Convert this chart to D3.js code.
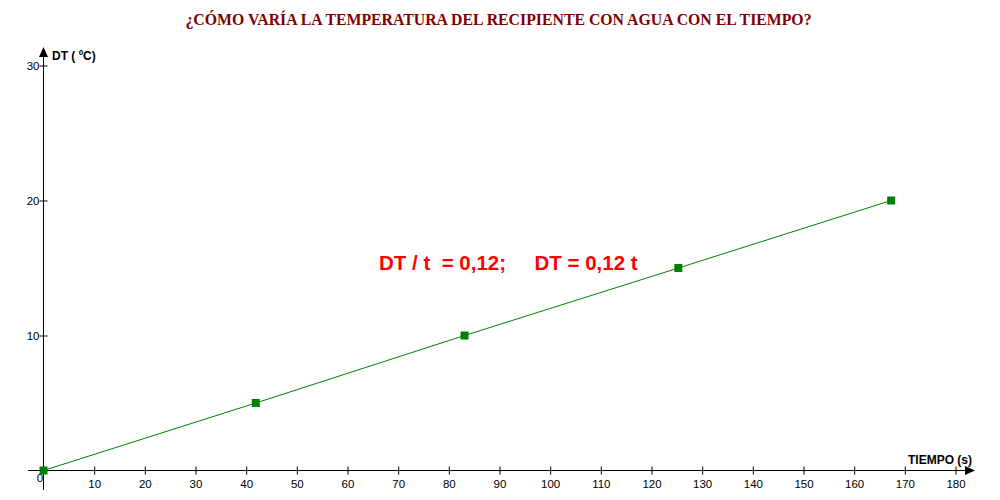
<!DOCTYPE html>
<html><head><meta charset="utf-8">
<script src="https://cdn.jsdelivr.net/npm/d3@7"></script>
<style>body{margin:0;background:#fff}svg{display:block}</style>
</head><body>
<svg id="c" width="1000" height="500"></svg>
<script>
const title = "¿CÓMO VARÍA LA TEMPERATURA DEL RECIPIENTE CON AGUA CON EL TIEMPO?";
const timeValues = [0, 41.9, 83.1, 125.3, 167.3];
const tempValues = [0, 5, 10, 15, 20];
const xTicks = [10,20,30,40,50,60,70,80,90,100,110,120,130,140,150,160,170,180];
const yTicks = [10, 20, 30];
const xLabel = "TIEMPO (s)";
const yLabel = "DT ( ºC)";
const annotation = "DT / t  = 0,12;     DT = 0,12 t";

const svg = d3.select("#c");
const x = d3.scaleLinear().domain([0,180]).range([43.5,955.5]);
const y = d3.scaleLinear().domain([0,30]).range([470.5,65.5]);

svg.append("text").attr("x",498.5).attr("y",25).attr("text-anchor","middle")
  .attr("font-family","Liberation Serif").attr("font-weight","bold").attr("font-size",15.8)
  .attr("fill","#800000").text(title);

// axes lines
svg.append("line").attr("x1",28).attr("x2",968).attr("y1",y(0)).attr("y2",y(0)).attr("stroke","#000");
svg.append("path").attr("d",`M975,${y(0)} L965,${y(0)-4.5} L965,${y(0)+4.5} Z`).attr("fill","#000");
svg.append("line").attr("x1",x(0)).attr("x2",x(0)).attr("y1",55).attr("y2",490).attr("stroke","#000");
svg.append("path").attr("d",`M${x(0)},47 L${x(0)-4.5},57 L${x(0)+4.5},57 Z`).attr("fill","#000");

const fnt = "Liberation Sans";
// x ticks
const xa = d3.axisBottom(x).tickValues(xTicks).tickSize(0).tickFormat(d3.format("d"));
const gx = svg.append("g").attr("transform",`translate(0,${y(0)})`).call(xa);
gx.select(".domain").remove();
gx.selectAll(".tick").append("line").attr("y1",-4).attr("y2",4).attr("stroke","#000");
gx.selectAll("text").attr("y",9).attr("dy","0.71em").attr("font-family",fnt).attr("font-size",11.5).attr("fill","#000");
svg.append("text").attr("x",40).attr("y",482).attr("text-anchor","middle").attr("font-family",fnt).attr("font-size",11.5).text("0");

// y ticks
const ya = d3.axisLeft(y).tickValues(yTicks).tickSize(0).tickFormat(d3.format("d"));
const gy = svg.append("g").attr("transform",`translate(${x(0)},0)`).call(ya);
gy.select(".domain").remove();
gy.selectAll(".tick").append("line").attr("x1",-4).attr("x2",4).attr("stroke","#000");
gy.selectAll("text").attr("x",-4).attr("dy","0.32em").attr("font-family",fnt).attr("font-size",11.5).attr("fill","#000");

// axis labels
svg.append("text").attr("x",52).attr("y",60).attr("font-family",fnt).attr("font-weight","bold").attr("font-size",12).text(yLabel);
svg.append("text").attr("x",972).attr("y",464).attr("text-anchor","end").attr("font-family",fnt).attr("font-weight","bold").attr("font-size",12).text(xLabel);

// line and points
const pts = timeValues.map((t,i)=>[t,tempValues[i]]);
svg.append("path").datum(pts).attr("d",d3.line().x(d=>x(d[0])).y(d=>y(d[1])))
  .attr("fill","none").attr("stroke","#008000").attr("stroke-width",1);
svg.selectAll("rect.pt").data(pts).enter().append("rect").attr("class","pt")
  .attr("x",d=>x(d[0])-4).attr("y",d=>y(d[1])-4).attr("width",8).attr("height",8).attr("fill","#008000");

svg.append("text").attr("x",379).attr("y",270).attr("font-family",fnt).attr("font-weight","bold")
  .attr("font-size",20.5).attr("fill","#ff0000").attr("xml:space","preserve").style("white-space","pre").text(annotation);
</script>
</body></html>
